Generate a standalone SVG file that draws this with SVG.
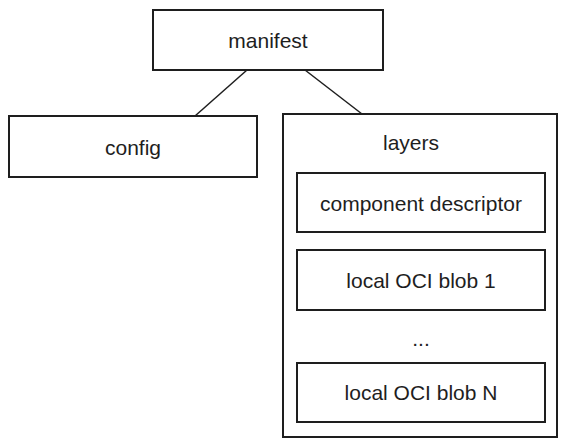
<svg xmlns="http://www.w3.org/2000/svg" width="565" height="447" viewBox="0 0 565 447">
<style>
.box{fill:#ffffff;stroke:#1e1e1e;stroke-width:2}
.lbl{font-family:"Liberation Sans",Arial,sans-serif;font-size:21px;fill:#1e1e1e;text-anchor:middle;dominant-baseline:central}
.edge{stroke:#1e1e1e;stroke-width:1.5;fill:none}
</style>
<rect width="565" height="447" fill="#ffffff"/>
<g id="connectors">
<line class="edge" x1="247" y1="70" x2="195" y2="116"/>
<line class="edge" x1="305" y1="70" x2="362" y2="114"/>
</g>
<g id="manifest">
<rect class="box" x="153" y="10" width="230" height="60"/>
<text class="lbl" x="268" y="40">manifest</text>
</g>
<g id="config">
<rect class="box" x="9" y="116" width="248" height="61"/>
<text class="lbl" x="133" y="147">config</text>
</g>
<g id="layers">
<rect class="box" x="283" y="114" width="274" height="323"/>
<text class="lbl" x="411" y="142">layers</text>
</g>
<g id="component-descriptor">
<rect class="box" x="297" y="173" width="248" height="59"/>
<text class="lbl" x="421" y="203">component descriptor</text>
</g>
<g id="blob1">
<rect class="box" x="297" y="250" width="248" height="60"/>
<text class="lbl" x="421" y="280">local OCI blob 1</text>
</g>
<g id="ellipsis">
<text class="lbl" x="421" y="338">...</text>
</g>
<g id="blobN">
<rect class="box" x="297" y="363" width="248" height="59"/>
<text class="lbl" x="421" y="392">local OCI blob N</text>
</g>
</svg>
